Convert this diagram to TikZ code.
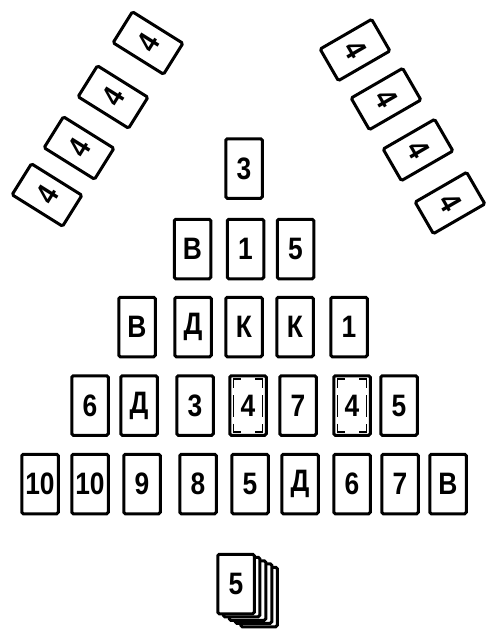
\documentclass[tikz,border=0pt]{standalone}
\usepackage{fontspec}
\newfontfamily\cardfont[FakeStretch=0.85]{Liberation Sans}
\begin{document}
\begin{tikzpicture}[x=1pt,y=-1pt,
  card/.style={draw, line width=3pt, rounded corners=1.5pt, minimum width=36.5pt,
    minimum height=59.5pt, inner sep=0pt, fill=white,
    font=\cardfont\bfseries\fontsize{31}{31}\selectfont},
  innerdash/.style={line width=1.7pt}]
\useasboundingbox (0,0) rectangle (485,629);
% fan left
\node[card, rotate=58] (l1) at (148,43) {4};
\node[card, rotate=58] (l2) at (113,97) {4};
\node[card, rotate=58] (l3) at (79,148) {4};
\node[card, rotate=58] (l4) at (47,195) {4};
% fan right
\node[card, rotate=-60] (r1) at (355,50) {4};
\node[card, rotate=-60] (r2) at (386,99) {4};
\node[card, rotate=-60] (r3) at (418,150) {4};
\node[card, rotate=-60] (r4) at (450,203) {4};
% row 1
\node[card] (a1) at (244,168.5) {3};
% row 2
\node[card] (b1) at (192.5,249) {В};
\node[card] (b2) at (245.5,249) {1};
\node[card] (b3) at (295.5,249) {5};
% row 3
\node[card] (c1) at (137,327) {В};
\node[card] (c2) at (193,327) {Д};
\node[card] (c3) at (244,327) {К};
\node[card] (c4) at (295,327) {К};
\node[card] (c5) at (349,327) {1};
% row 4
\node[card] (d1) at (90,405.5) {6};
\node[card] (d2) at (139,405.5) {Д};
\node[card] (d3) at (195,405.5) {3};
\node[card] (d4) at (248,405.5) {4};
\node[card] (d5) at (298,405.5) {7};
\node[card] (d6) at (352,405.5) {4};
\node[card] (d7) at (399,405.5) {5};
% inner dashed frames
\foreach \n in {d4,d6}{
\begin{scope}[shift={(\n.center)}, innerdash]
  \draw (-14.5,-18)--(-14.5,-26.5)--(-7,-26.5);
  \draw (7,-26.5)--(14.5,-26.5)--(14.5,-18);
  \draw (-14.5,18)--(-14.5,26.5)--(-7,26.5);
  \draw (7,26.5)--(14.5,26.5)--(14.5,18);
  \draw (-14.5,-10.5)--(-14.5,11.5);
  \draw (14.5,-10.5)--(14.5,11.5);
\end{scope}}
% row 5
\node[card] (e1) at (40,484) {10};
\node[card] (e2) at (90,484) {10};
\node[card] (e3) at (142,484) {9};
\node[card] (e4) at (198,484) {8};
\node[card] (e5) at (250,484) {5};
\node[card] (e6) at (300,484) {Д};
\node[card] (e7) at (352,484) {6};
\node[card] (e8) at (400,484) {7};
\node[card] (e9) at (448,484) {В};
% deck
\node[card] (k4) at (259,597) {};
\node[card] (k3) at (253.5,593.5) {};
\node[card] (k2) at (247.5,590.5) {};
\node[card] (k1) at (241.5,587) {};
\node[card] (k0) at (236,584) {5};
\end{tikzpicture}
\end{document}
